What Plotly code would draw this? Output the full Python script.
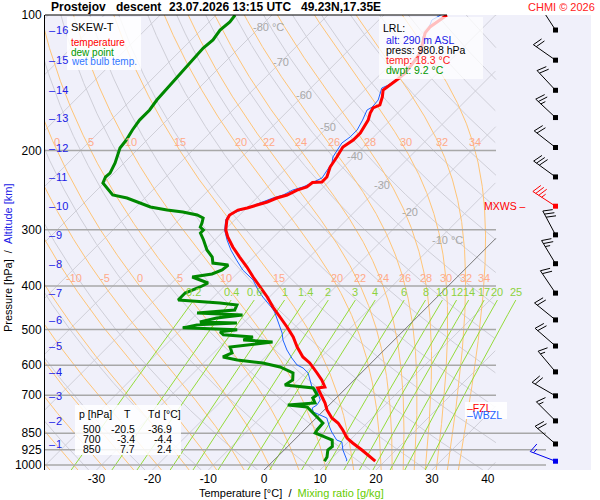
import numpy as np
import plotly.graph_objects as go

# ---- sounding: pressure [hPa], temperature [degC], top to bottom ----
temp_p = [100.0, 102.6, 106.3, 109.6, 115.4, 121.5, 127.8, 134.5, 138.8, 143.3, 146.8,
          152.1, 158.5, 160.9, 165.1, 171.2, 178.3, 182.9, 189.6, 196.5, 206.8, 217.7,
          229.1, 235.0, 235.6, 241.1, 244.9, 251.2, 255.1, 260.3, 264.4, 268.5, 271.3,
          278.3, 285.5, 300.5, 311.4, 327.8, 345.0, 363.1, 382.2, 402.2, 423.3, 445.6,
          469.0, 493.5, 519.5, 546.8, 575.4, 593.3, 624.5, 647.3, 670.9, 674.4, 706.1,
          728.1, 754.7, 786.3, 806.6, 836.0, 871.0, 893.5, 926.1, 950.0, 980.8]
temp_t = [-48.7, -49.1, -49.6, -49.4, -48.0, -46.7, -46.2, -45.8, -46.0, -46.4, -46.7,
          -45.6, -44.6, -45.3, -44.9, -44.0, -43.5, -43.1, -43.1, -43.7, -43.0, -42.4,
          -41.2, -41.2, -42.8, -43.0, -44.2, -45.1, -46.4, -47.4, -48.7, -49.9, -51.2,
          -51.8, -51.4, -49.8, -48.2, -45.5, -42.5, -39.4, -36.5, -33.5, -30.4, -27.6,
          -24.5, -21.5, -18.6, -16.1, -13.3, -11.0, -7.9, -5.8, -4.0, -5.1, -2.7,
          -1.1, 0.5, 2.8, 4.8, 6.9, 9.1, 11.0, 13.9, 15.9, 18.3]

dewp_p = [100.0, 103.6, 108.0, 113.6, 118.4, 127.9, 133.9, 141.6, 148.3, 154.5, 162.6,
          171.2, 180.1, 189.6, 197.5, 206.8, 213.2, 224.5, 229.1, 236.2, 242.4, 251.2,
          255.1, 260.4, 267.1, 271.2, 274.1, 278.3, 282.6, 290.0, 295.9, 300.5, 305.1,
          316.2, 332.8, 345.0, 355.8, 359.4, 368.7, 376.3, 382.1, 394.1, 402.2, 414.8,
          429.9, 436.5, 441.0, 452.4, 459.3, 464.2, 471.2, 480.8, 483.3, 488.2, 495.7,
          500.8, 505.9, 513.5, 519.5, 527.5, 532.9, 546.8, 563.5, 575.4, 584.3, 593.3,
          605.6, 624.5, 647.3, 664.1, 674.4, 698.2, 709.7, 728.2, 735.7, 743.2, 754.8,
          786.4, 806.7, 836.0, 848.9, 866.6, 880.0, 910.0, 926.0, 959.6, 980.8]
dewp_t = [-86.6, -86.3, -86.6, -86.1, -86.4, -86.1, -85.9, -85.6, -85.4, -85.4, -84.9,
          -84.9, -84.4, -83.7, -83.4, -82.3, -81.6, -80.7, -80.8, -80.2, -78.6, -76.3,
          -73.2, -70.7, -67.4, -63.9, -60.7, -57.6, -56.0, -55.3, -54.9, -53.8, -53.8,
          -52.0, -49.6, -47.4, -46.2, -43.1, -43.3, -44.4, -47.4, -43.5, -44.2, -45.8,
          -45.8, -37.8, -34.4, -33.9, -40.1, -31.6, -35.7, -38.0, -31.2, -38.0, -40.0,
          -29.9, -32.6, -31.5, -25.8, -27.0, -21.4, -28.1, -26.7, -27.6, -24.5, -19.4,
          -15.6, -12.2, -11.0, -11.5, -5.9, -4.0, -4.2, -2.9, -7.4, -3.6, -2.5,
          0.3, 2.1, 2.3, 2.5, 5.0, 6.8, 8.0, 7.8, 8.9, 9.2]

wetb_p = [100.0, 102.6, 108.0, 111.9, 119.6, 125.9, 130.5, 137.3, 143.3, 145.3, 154.5,
          160.2, 162.6, 171.2, 180.1, 186.6, 192.5, 206.8, 213.2, 221.0, 230.2, 236.0,
          241.1, 244.9, 251.2, 255.1, 260.3, 268.5, 278.3, 285.5, 300.5, 316.2, 332.9,
          350.4, 368.8, 387.9, 408.4, 423.3, 436.5, 447.8, 457.1, 476.3, 493.5, 509.0,
          527.5, 555.2, 578.4, 599.5, 608.7, 624.5, 647.3, 670.9, 681.3, 717.0, 735.6,
          747.0, 762.4, 774.3, 786.3, 823.3, 845.0, 880.0, 889.2, 926.1, 974.7, 980.8]
wetb_t = [-49.8, -50.5, -49.4, -49.1, -46.9, -46.0, -46.0, -46.0, -46.7, -47.3, -45.8,
          -45.6, -46.0, -45.0, -44.2, -44.2, -44.6, -43.7, -42.8, -42.4, -41.9, -42.8,
          -43.7, -45.0, -45.8, -47.1, -48.2, -50.1, -52.0, -51.6, -50.0, -47.8, -45.3,
          -42.5, -39.6, -36.0, -33.3, -31.2, -29.2, -27.6, -26.4, -24.5, -22.8, -21.3,
          -19.9, -17.4, -15.1, -12.9, -11.3, -9.5, -7.9, -6.3, -4.9, -2.5, -2.2,
          -2.5, -1.6, 0.1, 1.9, 4.0, 5.3, 7.6, 8.9, 10.5, 13.0, 13.1]

# altitude scale (km) and the pressure where each km sits
alt_km = [1, 2, 3, 4, 5, 6, 7, 8, 9, 10, 11, 12, 13, 14, 15, 16]
alt_p = [898, 798, 702, 621, 544, 476, 415, 357, 308, 266, 229, 197, 169, 147, 126, 108]

# wind barbs: surface + every km
wind_p = [980.8] + alt_p
wind_dir = [291, 311, 315, 300, 320, 311, 309, 326, 329, 332, 303, 306, 308, 313, 317, 305, 327]
wind_kt = [15, 20, 15, 20, 15, 20, 20, 20, 25, 30, 35, 30, 20, 25, 20, 20, 10]

pressure_ticks = [100, 200, 300, 400, 500, 600, 700, 850, 925, 1000]
isobars = [200, 300, 400, 500, 600, 700, 850, 925, 1000]
isobars_long = [850, 925, 1000]
temp_ticks = [-30, -20, -10, 0, 10, 20, 30, 40]

isotherm_label_t = [-80, -70, -60, -50, -40, -30, -20, -10]
isotherm_label_p = [106.3, 127.2, 150.6, 177.4, 205.5, 238.4, 274.0, 315.6]

moist_thetaw = [-40, -35, -30, -25, -20, -15, -10, -5, 0, 5, 10, 15, 20, 22, 24, 26, 28, 30, 32, 34]
moist_labels_200 = [0, 5, 10, 15, 20, 22, 24, 26, 28, 30, 32, 34]
moist_labels_400 = [-10, -5, 0, 5, 10, 15, 20, 22, 24, 26, 28, 30, 32, 34]
mixing_ratios = [0.2, 0.4, 0.6, 1, 1.4, 2, 3, 4, 6, 8, 10, 12, 14, 17, 20, 25]

table_p = [500, 700, 850]
table_t = [-20.5, -3.4, 7.7]
table_td = [-36.9, -4.4, 2.4]

lrl_alt, lrl_press, lrl_temp, lrl_dwpt = 290, 980.8, 18.3, 9.2

# ---- geometry of the diagram ----
LEFT, RIGHT, TOP, BOTTOM = 45, 591, 15, 470
X0_PX = 269.2          # pixel of 0 degC at 1000 hPa
PX_PER_C = 5.59
PX_PER_DECADE = 450.0
SKEW = PX_PER_DECADE / PX_PER_C
P_BOTTOM = 1000 * 10 ** ((BOTTOM - 465) / PX_PER_DECADE)
FONT = "Liberation Sans, Arial, sans-serif"


def xs(px):
    return (px - X0_PX) / PX_PER_C


X_MIN, X_MAX = xs(LEFT), xs(RIGHT)
X_CLIP = xs(496)
X_CLIP_LOW = xs(546)
BARB_X = xs(555.5)


def skew(t, p):
    return np.asarray(t, float) + SKEW * np.log10(1000.0 / np.asarray(p, float))


def px_x(px):
    return (px - LEFT) / (RIGHT - LEFT)


def px_y(py):
    return (BOTTOM - py) / (BOTTOM - TOP)


pp = np.logspace(np.log10(P_BOTTOM), 2, 600)

fig = go.Figure()


def add_curves(curves, color, width, clip=X_CLIP):
    xx, yy = [], []
    for p, t in curves:
        x = skew(t, p)
        for xv, pv in zip(x, p):
            xx.append(float(xv) if xv <= clip else None)
            yy.append(float(pv))
        xx.append(None)
        yy.append(None)
    fig.add_trace(go.Scatter(x=xx, y=yy, mode="lines", line=dict(color=color, width=width),
                             hoverinfo="skip", showlegend=False))


# dry adiabats and isotherms
dry = [(pp, th * (pp / 1000.0) ** 0.2857 - 273.15) for th in range(200, 490, 10)]
iso = [(pp, np.full_like(pp, t)) for t in range(-130, 50, 10) if t != 0]
add_curves(dry, "#CFCFD8", 1)
add_curves(iso, "#CFCFD8", 1)


# pseudo-adiabats
def moist_curve(thw):
    Rd, Cp, Lv, eps = 287.04, 1005.7, 2.501e6, 0.622

    def f(T, lnp):
        p = np.exp(lnp)
        es = 6.112 * np.exp(17.67 * (T - 273.15) / (T - 29.65))
        rs = eps * es / (p - es)
        return (Rd * T + Lv * rs) / (Cp + Lv * Lv * rs * eps / (Rd * T * T))

    def run(p_end, n):
        lnps = np.linspace(np.log(1000.0), np.log(p_end), n)
        T = thw + 273.15
        out = [T]
        for a, b in zip(lnps[:-1], lnps[1:]):
            h = b - a
            k1 = f(T, a)
            k2 = f(T + h * k1 / 2, a + h / 2)
            k3 = f(T + h * k2 / 2, a + h / 2)
            k4 = f(T + h * k3, b)
            T = T + h * (k1 + 2 * k2 + 2 * k3 + k4) / 6
            out.append(T)
        return np.exp(lnps), np.array(out) - 273.15

    pu, tu = run(100.0, 500)
    pd, td = run(P_BOTTOM, 6)
    p = np.concatenate([pd[::-1], pu[1:]])
    t = np.concatenate([td[::-1], tu[1:]])
    return p, t


moist = {th: moist_curve(th) for th in moist_thetaw}
add_curves(list(moist.values()), "#FFC577", 1)

# mixing ratio lines
pm = np.logspace(np.log10(P_BOTTOM), np.log10(430), 120)
mix = []
for w in mixing_ratios:
    e = w * pm / (622.0 + w)
    g = np.log(e / 6.112)
    mix.append((pm, 243.5 * g / (17.67 - g)))
add_curves(mix, "#94DB3A", 1, clip=1e9)

# isobars
xx, yy = [], []
for p in isobars:
    x1 = X_CLIP_LOW if p in isobars_long else X_CLIP
    xx += [X_MIN, x1, None]
    yy += [p, p, None]
fig.add_trace(go.Scatter(x=xx, y=yy, mode="lines", line=dict(color="#A8A8A8", width=1.5),
                         hoverinfo="skip", showlegend=False))

# 0 degC isotherm
add_curves([(pp, np.zeros_like(pp))], "#777777", 1)

# profiles
fig.add_trace(go.Scatter(x=skew(wetb_t, wetb_p).tolist(), y=wetb_p, mode="lines",
                         line=dict(color="#1E64FF", width=1), hoverinfo="skip"))
fig.add_trace(go.Scatter(x=skew(dewp_t, dewp_p).tolist(), y=dewp_p, mode="lines",
                         line=dict(color="#008800", width=3), hoverinfo="skip"))
fig.add_trace(go.Scatter(x=skew(temp_t, temp_p).tolist(), y=temp_p, mode="lines",
                         line=dict(color="#FF0000", width=3), hoverinfo="skip"))

# wind barbs
STAFF, BARB_LEN, BARB_GAP = 27.0, 10.0, 3.5


def barb_xy(p0, direction, speed):
    a = np.radians(direction)
    ux, uy = np.sin(a), -np.cos(a)
    r = np.radians(110)
    bx, by = ux * np.cos(r) - uy * np.sin(r), ux * np.sin(r) + uy * np.cos(r)
    segs = [((0, 0), (ux * STAFF, uy * STAFF))]
    full, rest = divmod(int(round(speed)), 10)
    pos = STAFF
    for _ in range(full):
        segs.append(((ux * pos, uy * pos), (ux * pos + bx * BARB_LEN, uy * pos + by * BARB_LEN)))
        pos -= BARB_GAP
    if rest >= 5:
        if full == 0:
            pos -= BARB_GAP
        segs.append(((ux * pos, uy * pos),
                     (ux * pos + bx * BARB_LEN / 2, uy * pos + by * BARB_LEN / 2)))
    xx, yy = [], []
    for (x1, y1), (x2, y2) in segs:
        xx += [BARB_X + x1 / PX_PER_C, BARB_X + x2 / PX_PER_C, None]
        yy += [p0 * 10 ** (y1 / PX_PER_DECADE), p0 * 10 ** (y2 / PX_PER_DECADE), None]
    return xx, yy


i_max = int(np.argmax(wind_kt))
for i, (p0, d, s) in enumerate(zip(wind_p, wind_dir, wind_kt)):
    col = "#0000EE" if i == 0 else ("#FF0000" if i == i_max else "black")
    bx_, by_ = barb_xy(p0, d, s)
    fig.add_trace(go.Scatter(x=bx_, y=by_, mode="lines", line=dict(color=col, width=1),
                             hoverinfo="skip", cliponaxis=False))
    fig.add_trace(go.Scatter(x=[BARB_X], y=[p0], mode="markers",
                             marker=dict(symbol="square", size=5, color=col), hoverinfo="skip"))


def crossing(p, t, level=0.0):
    for i in range(len(p) - 1, 0, -1):
        if (t[i] - level) * (t[i - 1] - level) <= 0:
            f = (level - t[i]) / (t[i - 1] - t[i])
            return p[i] + f * (p[i - 1] - p[i])
    return None


p_fzl = crossing(temp_p, temp_t)
p_wbzl = crossing(wetb_p, wetb_t)

# ---- text ----
ann = []


def note(text, px, py, size=10.5, color="black", xanchor="left", **kw):
    ann.append(dict(text=text, x=px_x(px), y=px_y(py), xref="paper", yref="paper",
                    xanchor=xanchor, yanchor="middle", showarrow=False,
                    font=dict(size=size, color=color, family=FONT), **kw))


def data_note(text, x, p, size=11, color="black", xanchor="center", yanchor="middle", **kw):
    ann.append(dict(text=text, x=float(x), y=float(np.log10(p)), xref="x", yref="y",
                    xanchor=xanchor, yanchor=yanchor, showarrow=False,
                    font=dict(size=size, color=color, family=FONT), **kw))


nb = "\u00a0"
note("<b>Prostejov</b>", 49, 7, size=12)
note("<b>descent</b>", 114, 7, size=12)
note("<b>23.07.2026 13:15 UTC</b>", 167, 7, size=12)
note("<b>49.23N,17.35E</b>", 299, 7, size=12)
note("CHMI © 2026", 597, 7, size=11, color="#FF2020", xanchor="right")

# isotherm labels
for t, p in zip(isotherm_label_t, isotherm_label_p):
    if t in (-80, -10):
        data_note(f"{t} °C", skew(t, p), p, color="#A8A8A8", xanchor="left", xshift=-9)
    else:
        data_note(str(t), skew(t, p), p, color="#A8A8A8")

# moist adiabat labels at 200 and 400 hPa
for plev, labels in ((200.0, moist_labels_200), (400.0, moist_labels_400)):
    for th in labels:
        p, t = moist[th]
        tl = np.interp(np.log(plev), np.log(p[::-1]), t[::-1])
        data_note(str(th), skew(tl, plev), plev, color="#FFAA88", yanchor="bottom")

# mixing ratio labels
for w, (p, t) in zip(mixing_ratios, mix):
    data_note(f"{w:g}", skew(t[-1], p[-1]), p[-1], color="#8CD23C", yanchor="bottom")

# altitude scale
for km, p in zip(alt_km, alt_p):
    ann.append(dict(text="–\u200a" + str(km), x=px_x(47), y=float(np.log10(p)), xref="paper",
                    yref="y", xanchor="left", yanchor="middle", showarrow=False,
                    font=dict(size=11, color="#2020E6", family=FONT)))

# legend box
note("SKEW-T", 69, 27, size=11)
note("temperature", 69, 42.5, size=10, color="#FF0000")
note("dew point", 69, 52, size=10, color="#009900")
note("wet bulb temp.", 69, 61.5, size=10, color="#3377FF")

# LRL box
note("LRL:", 381, 27.5)
note(f"alt: {lrl_alt} m ASL", 384, 40, color="#2020E6")
note(f"press: {lrl_press} hPa", 384, 50)
note(f"temp: {lrl_temp} °C", 384, 60, color="#FF2020")
note(f"dwpt: {lrl_dwpt} °C", 384, 70, color="#009900")

# table
note("p [hPa]", 77, 413.5)
note("T", 127.5, 413.5, xanchor="center")
note("Td [°C]", 146, 413.5)
for i, (p, t, td) in enumerate(zip(table_p, table_t, table_td)):
    yy_ = 428.5 + 10 * i
    note(str(p), 103, yy_, xanchor="right")
    note(f"{t:.1f}", 137, yy_, xanchor="right")
    note(f"{td:.1f}", 174, yy_, xanchor="right")

# level labels
ann.append(dict(text="MXWS –", x=px_x(482), y=float(np.log10(wind_p[i_max])), xref="paper",
                yref="y", xanchor="left", yanchor="middle", showarrow=False,
                font=dict(size=10.5, color="#FF0000", family=FONT)))
ann.append(dict(text="–FZL", x=px_x(465), y=float(np.log10(p_fzl)), xref="paper",
                yref="y", xanchor="left", yanchor="middle", showarrow=False,
                font=dict(size=10.5, color="#FF0000", family=FONT)))
ann.append(dict(text="–WBZL", x=px_x(465), y=float(np.log10(p_wbzl)), xref="paper",
                yref="y", xanchor="left", yanchor="middle", showarrow=False,
                font=dict(size=10.5, color="#1E64FF", family=FONT)))

# axis titles
note("Temperature [°C]" + nb * 2 + "/" + nb * 2
     + "<span style='color:#66CC00'>Mixing ratio [g/kg]</span>", 197, 493, size=11)
ann.append(dict(text="Pressure [hPa]" + nb * 2 + "/" + nb * 2
                + "<span style='color:#2020E6'>Altitude [km]</span>",
                x=px_x(8), y=px_y(258), xref="paper", yref="paper", textangle=-90,
                xanchor="center", yanchor="middle", showarrow=False,
                font=dict(size=11, color="black", family=FONT)))


# ---- boxes and frame ----
def box(x0, y0, x1, y1, alpha):
    return dict(type="rect", xref="paper", yref="paper", x0=px_x(x0), x1=px_x(x1),
                y0=px_y(y1), y1=px_y(y0), fillcolor=f"rgba(255,255,255,{alpha})",
                line=dict(width=0), layer="above")


shapes = [
    box(67, 17, 141, 70, 0.85),
    box(379, 17, 483, 79, 0.75),
    box(75, 405, 181, 455, 0.85),
    box(465, 402, 507, 419, 0.9),
    dict(type="line", xref="paper", yref="paper", x0=0, x1=px_x(447), y0=1, y1=1,
         line=dict(color="black", width=1.2), layer="above"),
]

x_bottom_shift = SKEW * np.log10(1000.0 / P_BOTTOM)
fig.update_layout(
    width=600, height=500,
    margin=dict(l=LEFT, r=600 - RIGHT, t=TOP, b=500 - BOTTOM),
    paper_bgcolor="white", plot_bgcolor="#F0F0FA",
    showlegend=False, hovermode=False,
    font=dict(family=FONT, size=12, color="black"),
    xaxis=dict(range=[X_MIN, X_MAX], tickvals=[t + x_bottom_shift for t in temp_ticks],
               ticktext=[str(t) for t in temp_ticks], showgrid=False, zeroline=False,
               showline=False, ticks="", tickfont=dict(size=12, family=FONT, color="black")),
    yaxis=dict(type="log", range=[np.log10(P_BOTTOM), 2], tickvals=pressure_ticks,
               ticktext=[str(p) for p in pressure_ticks], showgrid=False, zeroline=False,
               showline=True, linecolor="black", linewidth=1, ticks="",
               tickfont=dict(size=12, family=FONT, color="black")),
    annotations=ann, shapes=shapes,
)

fig.write_html("out.html", config={"displayModeBar": False, "staticPlot": True},
               post_script="document.body.style.margin='0px';")
